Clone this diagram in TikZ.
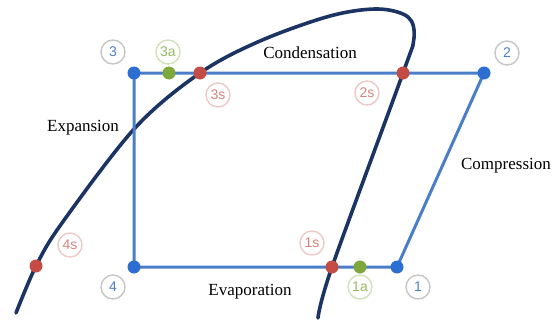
\documentclass[tikz,border=0pt]{standalone}
\usepackage{fontspec}
\setmainfont{Liberation Serif}
\newfontfamily\labelfont{Liberation Sans}
\definecolor{cyclec}{RGB}{74,126,200}
\definecolor{domec}{RGB}{28,52,100}
\definecolor{bluept}{RGB}{44,110,210}
\definecolor{redpt}{RGB}{196,76,70}
\definecolor{greenpt}{RGB}{126,168,62}
\tikzset{
  dot/.style={circle,inner sep=0pt,minimum size=13pt},
  tag/.style={circle,draw,line width=1.4pt,inner sep=0pt,minimum size=24pt,font=\labelfont\fontsize{14}{14}\selectfont},
  maintag/.style={tag,draw=gray!45,text=cyclec},
  satag/.style={tag,draw=redpt!30,text=redpt!70},
  atag/.style={tag,draw=greenpt!35,text=greenpt!80},
  proc/.style={font=\fontsize{17}{18}\selectfont}
}
\begin{document}
\begin{tikzpicture}[x=1pt,y=-1pt]
            \useasboundingbox (0,0) rectangle (555,327);
            % saturation dome
            \draw[domec,line width=3.6pt,line cap=round] plot[smooth,tension=0.55] coordinates
                {(16,313) (36,266) (62,223) (135,128) (200,73) (260,41) (330,16) (378,9) (408,17) (414,38) (403,73) (332,267) (318,318)};
            % cycle points
            \node[dot] (p3) at (134,73) {};
            \node[dot] (p2) at (484,73) {};
            \node[dot] (p4) at (134,267) {};
            \node[dot] (p1) at (397,267) {};
            \draw[cyclec,line width=3pt] (p1.center) -- (p2.center) -- (p3.center) -- (p4.center) -- cycle;
            \node[dot,fill=bluept] at (p3) {};
            \node[dot,fill=bluept] at (p2) {};
            \node[dot,fill=bluept] at (p4) {};
            \node[dot,fill=bluept] at (p1) {};
            \node[dot,fill=greenpt] (p3a) at (169,73) {};
            \node[dot,fill=redpt] (p3s) at (200,73) {};
            \node[dot,fill=redpt] (p2s) at (403,73) {};
            \node[dot,fill=redpt] (p1s) at (332,267) {};
            \node[dot,fill=greenpt] (p1a) at (360,267) {};
            \node[dot,fill=redpt] (p4s) at (36,266) {};
            % point labels
            \node[maintag] (l3) at (113,52) {3};
            \node[maintag] (l2) at (507,53) {2};
            \node[maintag] (l4) at (113,287) {4};
            \node[maintag] (l1) at (418,287) {1};
            \node[atag] (l3a) at (168,52) {3a};
            \node[atag] (l1a) at (360,287) {1a};
            \node[satag] (l3s) at (218,95) {3s};
            \node[satag] (l2s) at (367,93) {2s};
            \node[satag] (l1s) at (312,243) {1s};
            \node[satag] (l4s) at (70,245) {4s};
            % processes
            \node[proc] (cond) at (310,53) {Condensation};
            \node[proc] (expa) at (83,128) {Expansion};
            \node[proc] (comp) at (506,166) {Compression};
            \node[proc] (evap) at (250,292) {Evaporation};
        \end{tikzpicture}
\end{document}
